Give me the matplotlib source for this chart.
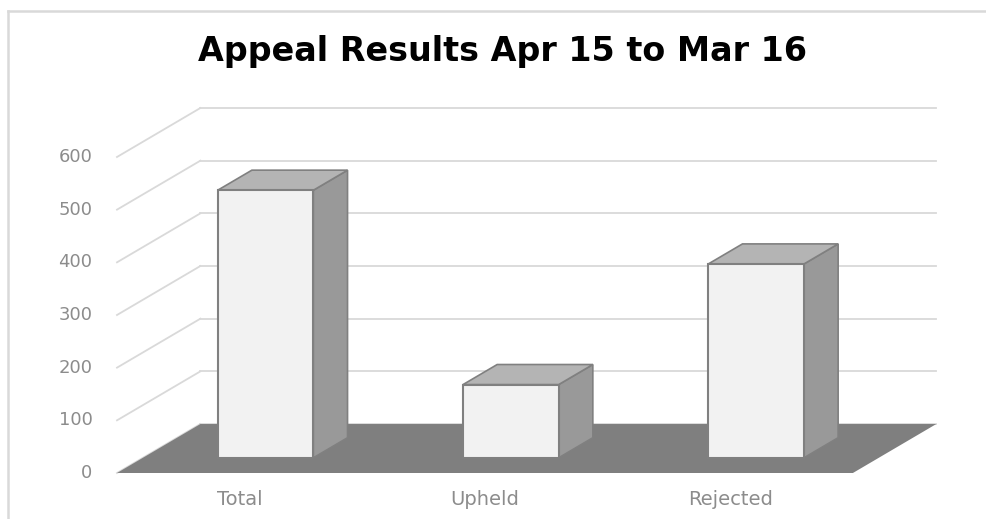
import matplotlib

matplotlib.use("Agg")
import matplotlib.pyplot as plt
from matplotlib.patches import Polygon

categories = ["Total", "Upheld", "Rejected"]
values = [508, 139, 368]
y_ticks = [0, 100, 200, 300, 400, 500, 600]

# oblique 3d look: depth offset of the floor in (category, value) units
depth_dx = 0.34
depth_dy = 93
bar_w = 0.39
bar_front = 0.31  # where the bar sits inside the floor depth
bar_depth = 0.41

grid_col = "#d9d9d9"
floor_col = "#7f7f7f"
face_col = "#f2f2f2"
top_col = "#b4b4b4"
side_col = "#999999"
edge_col = "#808080"
label_col = "#8c8c8c"

fig = plt.figure(figsize=(9.86, 5.19), dpi=100)
ax = fig.add_axes([0, 0, 1, 1])
# px -> data: 245.3 px per category, 0.5267 px per value unit
ax.set_xlim(-0.5 - 117 / 245.3, -0.5 + (986 - 117) / 245.3)
ax.set_ylim((473 - 519) / 0.5267, 473 / 0.5267)
ax.axis("off")

n = len(categories)
x_left = -0.5
x_right = n - 0.5

# gridlines: side wall diagonals + back wall
for v in y_ticks:
    ax.plot([x_left, x_left + depth_dx], [v, v + depth_dy], color=grid_col, lw=1.3, zorder=1)
    ax.plot([x_left + depth_dx, x_right + depth_dx], [v + depth_dy, v + depth_dy],
            color=grid_col, lw=1.3, zorder=1)
    ax.text(x_left - 0.1, v, str(v), ha="right", va="center", fontsize=13,
            color=label_col, zorder=5)

# floor
floor = Polygon([(x_left, 0), (x_right, 0), (x_right + depth_dx, depth_dy),
                 (x_left + depth_dx, depth_dy)], closed=True,
                facecolor=floor_col, edgecolor="none", zorder=2)
ax.add_patch(floor)

# bars
for i, (cat, val) in enumerate(zip(categories, values)):
    x0 = i - bar_w / 2 + bar_front * depth_dx
    x1 = x0 + bar_w
    y0 = bar_front * depth_dy
    y1 = y0 + val
    ddx = bar_depth * depth_dx
    ddy = bar_depth * depth_dy
    side = Polygon([(x1, y0), (x1 + ddx, y0 + ddy), (x1 + ddx, y1 + ddy), (x1, y1)],
                   closed=True, facecolor=side_col, edgecolor=edge_col, lw=1.2, zorder=3)
    top = Polygon([(x0, y1), (x1, y1), (x1 + ddx, y1 + ddy), (x0 + ddx, y1 + ddy)],
                  closed=True, facecolor=top_col, edgecolor=edge_col, lw=1.2, zorder=3)
    front = Polygon([(x0, y0), (x1, y0), (x1, y1), (x0, y1)],
                    closed=True, facecolor=face_col, edgecolor=edge_col, lw=1.5, zorder=4)
    ax.add_patch(side)
    ax.add_patch(top)
    ax.add_patch(front)
    ax.text(i, -50, cat, ha="center", va="center", fontsize=14, color=label_col)

fig.text(502 / 986, 1 - 51 / 519, "Appeal Results Apr 15 to Mar 16", ha="center",
         va="center", fontsize=24, fontweight="bold", color="black")

# chart border (left and top visible)
fig.add_artist(plt.Line2D([8 / 986, 8 / 986], [0, 1 - 11 / 519], color=grid_col, lw=1.8))
fig.add_artist(plt.Line2D([8 / 986, 1], [1 - 11 / 519, 1 - 11 / 519], color=grid_col, lw=1.8))

fig.savefig("out.png", dpi=100)
